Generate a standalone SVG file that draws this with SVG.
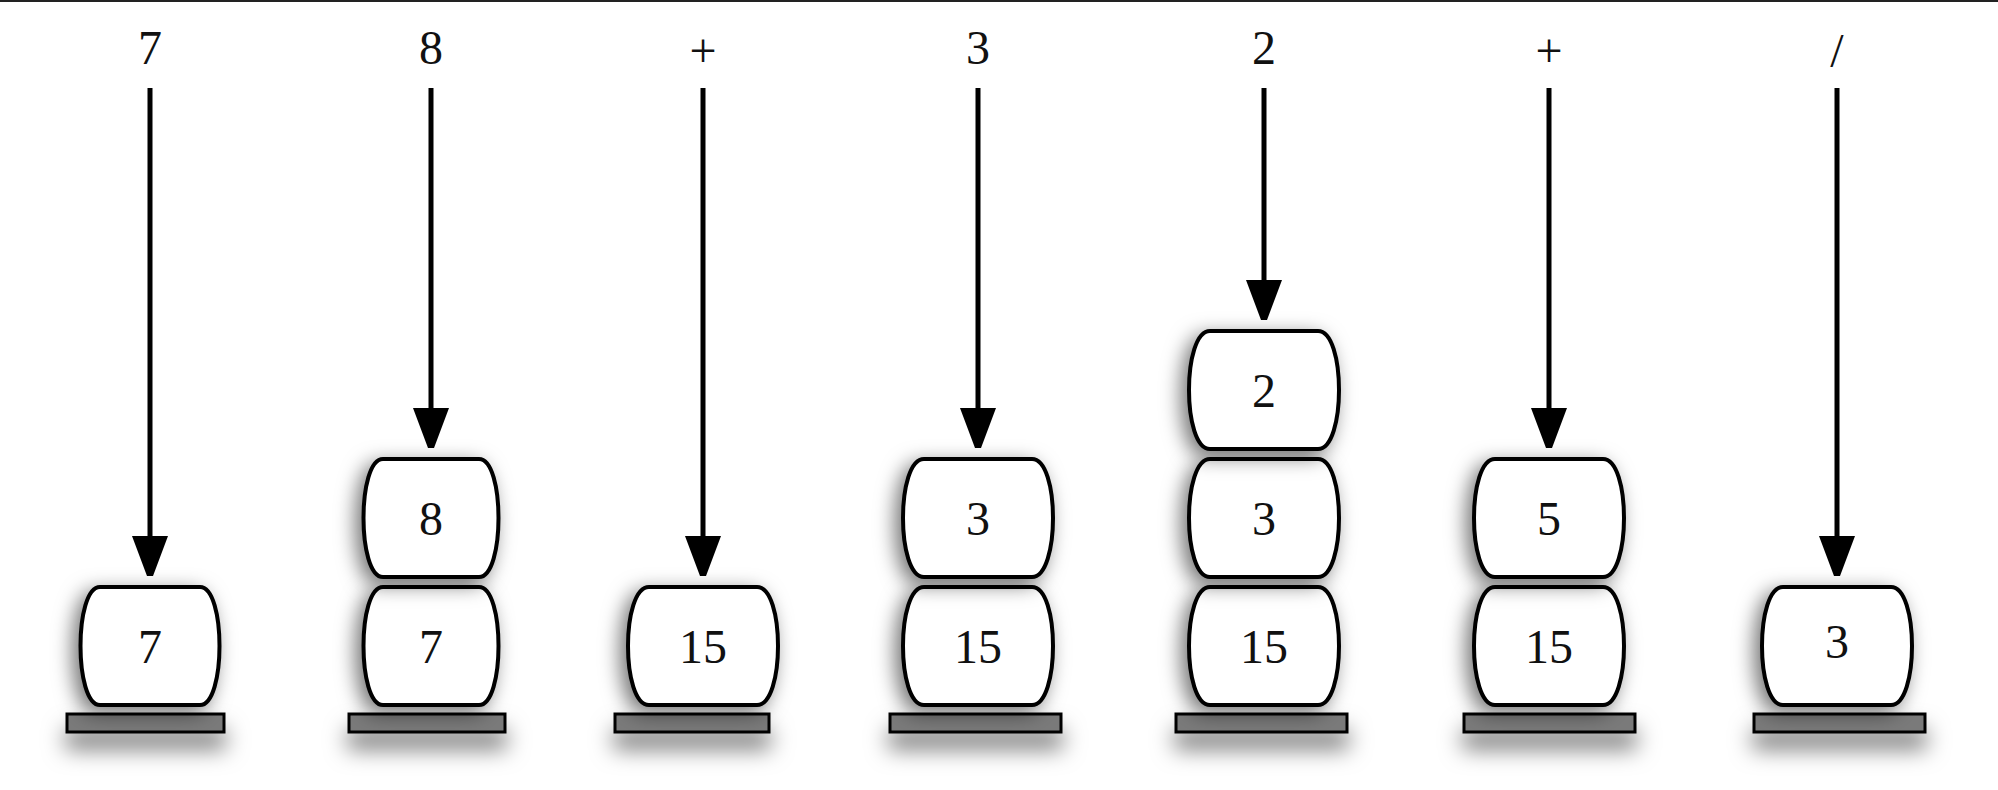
<svg xmlns="http://www.w3.org/2000/svg" width="1998" height="790" viewBox="0 0 1998 790">
<style>
.t{font-family:"Liberation Serif","Times New Roman",serif;font-size:48px;fill:#111;text-anchor:middle}
.box{fill:#fff;stroke:#000;stroke-width:4;filter:url(#sh)}
.bar{fill:#7a7a7a;stroke:#000;stroke-width:3;filter:url(#sh2)}
.ar{stroke:#000;stroke-width:5;marker-end:url(#ah)}
</style>
<defs>
<filter id="sh" x="-40%" y="-40%" width="180%" height="180%"><feDropShadow dx="-6" dy="6" stdDeviation="10" flood-color="#000" flood-opacity="0.55"/></filter>
<filter id="sh2" x="-40%" y="-100%" width="180%" height="500%"><feDropShadow dx="0" dy="16" stdDeviation="11" flood-color="#000" flood-opacity="0.5"/></filter>
<marker id="ah" markerWidth="8" markerHeight="10" refX="0" refY="5" orient="auto" markerUnits="strokeWidth"><path d="M0,1.4 L9.6,5 L0,8.6 Z" fill="#000"/></marker>
</defs>
<rect x="0" y="0" width="1998" height="790" fill="#fff"/>
<line x1="0" y1="1" x2="1998" y2="1" stroke="#222" stroke-width="2"/>
<g id="connectors">
<line class="ar" x1="150" y1="88" x2="150" y2="536"/>
<line class="ar" x1="431" y1="88" x2="431" y2="408"/>
<line class="ar" x1="703" y1="88" x2="703" y2="536"/>
<line class="ar" x1="978" y1="88" x2="978" y2="408"/>
<line class="ar" x1="1264" y1="88" x2="1264" y2="280"/>
<line class="ar" x1="1549" y1="88" x2="1549" y2="408"/>
<line class="ar" x1="1837" y1="88" x2="1837" y2="536"/>
</g>
<g id="labels">
<text class="t" x="150" y="64">7</text>
<text class="t" x="431" y="64">8</text>
<text class="t" x="703" y="67">+</text>
<text class="t" x="978" y="64">3</text>
<text class="t" x="1264" y="64">2</text>
<text class="t" x="1549" y="67">+</text>
<text class="t" x="1837" y="67">/</text>
</g>
<g id="col1">
<rect class="bar" x="67" y="714" width="157" height="18"/>
<path class="box" d="M100,587 H200 C226,587 226,705 200,705 H100 C74,705 74,587 100,587 Z"/><text class="t" x="150" y="663">7</text>
</g>
<g id="col2">
<rect class="bar" x="349" y="714" width="156" height="18"/>
<path class="box" d="M383,587 H479 C505,587 505,705 479,705 H383 C357,705 357,587 383,587 Z"/><text class="t" x="431" y="663">7</text>
<path class="box" d="M383,459 H479 C505,459 505,577 479,577 H383 C357,577 357,459 383,459 Z"/><text class="t" x="431" y="535">8</text>
</g>
<g id="col3">
<rect class="bar" x="615" y="714" width="154" height="18"/>
<path class="box" d="M649,587 H757 C785,587 785,705 757,705 H649 C621,705 621,587 649,587 Z"/><text class="t" x="703" y="663">15</text>
</g>
<g id="col4">
<rect class="bar" x="890" y="714" width="171" height="18"/>
<path class="box" d="M924,587 H1032 C1060,587 1060,705 1032,705 H924 C896,705 896,587 924,587 Z"/><text class="t" x="978" y="663">15</text>
<path class="box" d="M924,459 H1032 C1060,459 1060,577 1032,577 H924 C896,577 896,459 924,459 Z"/><text class="t" x="978" y="535">3</text>
</g>
<g id="col5">
<rect class="bar" x="1176" y="714" width="171" height="18"/>
<path class="box" d="M1210,587 H1318 C1346,587 1346,705 1318,705 H1210 C1182,705 1182,587 1210,587 Z"/><text class="t" x="1264" y="663">15</text>
<path class="box" d="M1210,459 H1318 C1346,459 1346,577 1318,577 H1210 C1182,577 1182,459 1210,459 Z"/><text class="t" x="1264" y="535">3</text>
<path class="box" d="M1210,331 H1318 C1346,331 1346,449 1318,449 H1210 C1182,449 1182,331 1210,331 Z"/><text class="t" x="1264" y="407">2</text>
</g>
<g id="col6">
<rect class="bar" x="1464" y="714" width="171" height="18"/>
<path class="box" d="M1495,587 H1603 C1631,587 1631,705 1603,705 H1495 C1467,705 1467,587 1495,587 Z"/><text class="t" x="1549" y="663">15</text>
<path class="box" d="M1495,459 H1603 C1631,459 1631,577 1603,577 H1495 C1467,577 1467,459 1495,459 Z"/><text class="t" x="1549" y="535">5</text>
</g>
<g id="col7">
<rect class="bar" x="1754" y="714" width="171" height="18"/>
<path class="box" d="M1783,587 H1891 C1919,587 1919,705 1891,705 H1783 C1755,705 1755,587 1783,587 Z"/><text class="t" x="1837" y="658">3</text>
</g>
</svg>
